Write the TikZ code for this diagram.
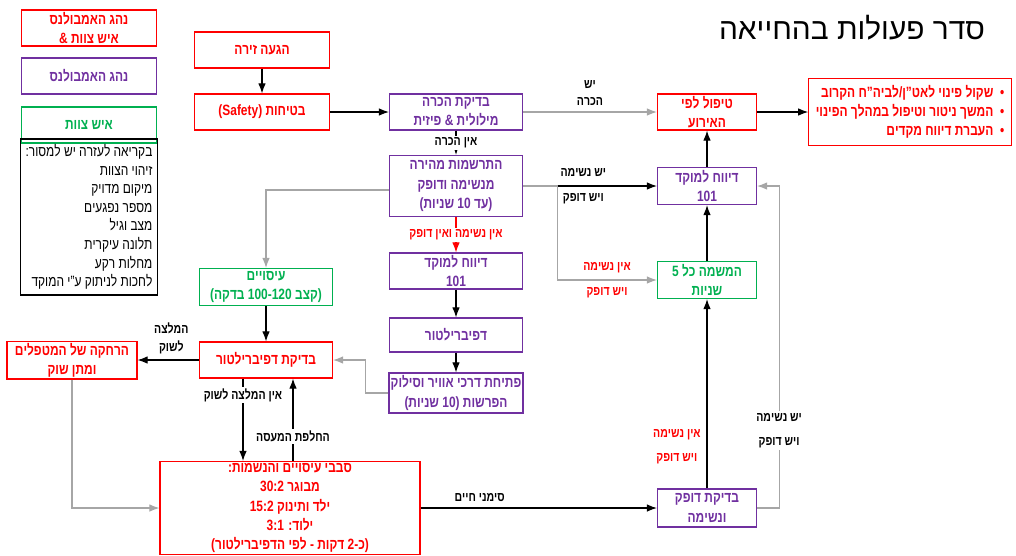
\documentclass[tikz,border=0pt]{standalone}
\usepackage{fontspec}
\setmainfont{Liberation Sans}[FakeStretch=0.8, BoldFont={Liberation Sans Bold}]
\newfontfamily\titlefont{Liberation Sans}
\usetikzlibrary{arrows.meta,calc}
\TeXXeTstate=1
\newcommand{\rl}[1]{\beginR #1\endR}
\newcommand{\op}{\kern0pt)\kern0pt}
\newcommand{\cp}{\kern0pt(\kern0pt}
\definecolor{cprred}{RGB}{255,0,0}
\definecolor{drvpurple}{RGB}{112,48,160}
\definecolor{crewgreen}{RGB}{0,176,80}
\tikzset{
  box/.style={draw, line width=0.7pt, align=center, inner sep=1pt,
    font=\bfseries\fontsize{8.5}{11}\selectfont},
  redbox/.style={box, draw=cprred, text=cprred},
  purbox/.style={box, draw=drvpurple, text=drvpurple},
  grnbox/.style={box, draw=crewgreen, text=crewgreen},
  lbl/.style={font=\bfseries\fontsize{7.5}{10}\selectfont, align=center},
  flow/.style={->, line width=0.6pt},
  gflow/.style={->, line width=0.6pt, draw=gray!70},
}
\begin{document}
\begin{tikzpicture}[x=0.02cm, y=-0.02cm, >=Latex]

      \useasboundingbox (0, 0) rectangle (1016, 555);

      % legend
      \node [redbox, minimum width=2.7cm, minimum height=0.72cm] (legboth) at (89, 28)
        {\rl{נהג האמבולנס}\\ \rl{איש צוות \&}};
      \node [purbox, minimum width=2.7cm, minimum height=0.72cm] (legdrv) at (89, 76)
        {\rl{נהג האמבולנס}};
      \node [grnbox, minimum width=2.7cm, minimum height=0.72cm] (legcrew) at (89, 125)
        {\rl{איש צוות}};
      \node [draw, line width=0.7pt, minimum width=2.7cm, minimum height=2.52cm,
        align=right, font=\fontsize{8.5}{10.6}\selectfont, inner sep=3pt] (legcall) at (89, 217)
        {\rl{בקריאה לעזרה יש למסור:}\\ \rl{זיהוי הצוות}\\ \rl{מיקום מדויק}\\
         \rl{מספר נפגעים}\\ \rl{מצב וגיל}\\ \rl{תלונה עיקרית}\\ \rl{מחלות רקע}\\
         \rl{לחכות לניתוק ע"י המוקד}};

      \node [font=\titlefont\fontsize{17}{20}\selectfont] (title) at (852, 28) {\rl{סדר פעולות בהחייאה}};

      % main column
      \node [redbox, minimum width=2.7cm, minimum height=0.72cm] (arrive) at (262, 50) {\rl{הגעה זירה}};
      \node [redbox, minimum width=2.7cm, minimum height=0.72cm] (safety) at (262, 112) {\rl{בטיחות (Safety)}};
      \node [purbox, minimum width=2.66cm, minimum height=0.72cm] (recog) at (456, 112)
        {\rl{בדיקת הכרה}\\ \rl{מילולית \& פיזית}};
      \node [purbox, minimum width=2.66cm, minimum height=1.22cm] (quick) at (456, 186)
        {\rl{התרשמות מהירה}\\ \rl{מנשימה ודופק}\\ \rl{\op עד 10 שניות\cp}};
      \node [purbox, minimum width=2.66cm, minimum height=0.72cm] (report2) at (456, 271)
        {\rl{דיווח למוקד}\\ 101};
      \node [purbox, minimum width=2.66cm, minimum height=0.68cm] (defib) at (456, 335) {\rl{דפיברילטור}};
      \node [purbox, minimum width=2.66cm, minimum height=0.8cm] (airway) at (456, 393)
        {\rl{פתיחת דרכי אוויר וסילוק}\\ \rl{הפרשות \op 10 שניות\cp}};

      % right column
      \node [redbox, minimum width=1.98cm, minimum height=0.72cm] (treat) at (707, 112)
        {\rl{טיפול לפי}\\ \rl{האירוע}};
      \node [redbox, minimum width=4cm, minimum height=1.3cm, align=right, inner sep=4pt] (todo) at (910, 112)
        {\rl{•\ \ שקול פינוי לאט"ן/לביה"ח הקרוב}\\
         \rl{•\ \ המשך ניטור וטיפול במהלך הפינוי}\\
         \rl{•\ \ העברת דיווח מקדים}};
      \node [purbox, minimum width=1.98cm, minimum height=0.74cm] (report1) at (707, 186)
        {\rl{דיווח למוקד}\\ 101};
      \node [grnbox, minimum width=1.98cm, minimum height=0.74cm] (breathe) at (707, 280)
        {\rl{המשמה כל 5}\\ \rl{שניות}};
      \node [purbox, minimum width=1.98cm, minimum height=0.76cm] (pulse) at (707, 508)
        {\rl{בדיקת דופק}\\ \rl{ונשימה}};

      % left part
      \node [grnbox, minimum width=2.66cm, minimum height=0.74cm] (compress) at (266, 287)
        {\rl{עיסויים}\\ \rl{\op קצב 100-120 בדקה\cp}};
      \node [redbox, minimum width=2.66cm, minimum height=0.72cm] (defcheck) at (266, 360) {\rl{בדיקת דפיברילטור}};
      \node [redbox, minimum width=2.6cm, minimum height=0.72cm] (shock) at (72, 360)
        {\rl{הרחקה של המטפלים}\\ \rl{ומתן שוק}};
      \node [redbox, minimum width=5.2cm, minimum height=1.74cm] (cpr) at (290, 508)
        {\rl{סבבי עיסויים והנשמות:}\\ \rl{מבוגר 30:2}\\ \rl{ילד ותינוק 15:2}\\
         \rl{ילוד: 3:1}\\ \rl{\op כ-2 דקות - לפי הדפיברילטור\cp}};

      % connectors
      \draw [flow] (arrive) -- (safety);
      \draw [flow] (safety) -- (recog);
      \draw [gflow] (recog) -- node [lbl, above] {\rl{יש}\\ \rl{הכרה}} (treat);
      \draw [flow] (recog) -- node [lbl, fill=white, inner sep=1pt] {\rl{אין הכרה}} (quick);
      \draw [flow] (quick) -- node [lbl, pos=0.45] {\rl{יש נשימה}\\[4pt] \rl{ויש דופק}} (report1);
      \draw [gflow] (quick.east |- 0, 186) -| ($(quick.east)+(34, 0)$) |- node [lbl, text=cprred, pos=0.75] {\rl{אין נשימה}\\[4pt] \rl{ויש דופק}} (breathe);
      \draw [gflow] ($(quick.west)+(0, 4)$) -| (compress);
      \draw [->, line width=0.6pt, draw=cprred] (quick) -- node [lbl, text=cprred, fill=white, inner sep=1pt] {\rl{אין נשימה ואין דופק}} (report2);
      \draw [flow] (report2) -- (defib);
      \draw [flow] (defib) -- (airway);
      \draw [gflow] (airway.west) -| ($(defcheck.east)+(32, 0)$) -- (defcheck.east);
      \draw [flow] (compress) -- (defcheck);
      \draw [flow] (defcheck) -- node [lbl, above, pos=0.45] {\rl{המלצה}\\ \rl{לשוק}} (shock);
      \draw [flow] ($(defcheck.south)+(-23, 0)$) -- node [lbl, pos=0.2, fill=white, inner sep=1pt] {\rl{אין המלצה לשוק}} ($(cpr.north)+(-47, 0)$);
      \draw [flow] ($(cpr.north)+(3, 0)$) -- node [lbl, pos=0.3, fill=white, inner sep=1pt] {\rl{החלפת המעסה}} ($(defcheck.south)+(27, 0)$);
      \draw [gflow] (shock.south) |- (cpr.west);
      \draw [flow] (cpr) -- node [lbl, above, pos=0.25] {\rl{סימני חיים}} (pulse);
      \draw [flow] (pulse) -- node [lbl, text=cprred, left, pos=0.22] {\rl{אין נשימה}\\[4pt] \rl{ויש דופק}} (breathe);
      \draw [gflow] (pulse.east) -| ($(report1.east)+(22, 0)$) node [lbl, text=black, pos=0.62, fill=white, inner sep=1pt] {\rl{יש נשימה}\\[4pt] \rl{ויש דופק}} -- (report1.east);
      \draw [flow] (breathe) -- (report1);
      \draw [flow] (report1) -- (treat);
      \draw [flow] (treat) -- (todo);

    \end{tikzpicture}
\end{document}
